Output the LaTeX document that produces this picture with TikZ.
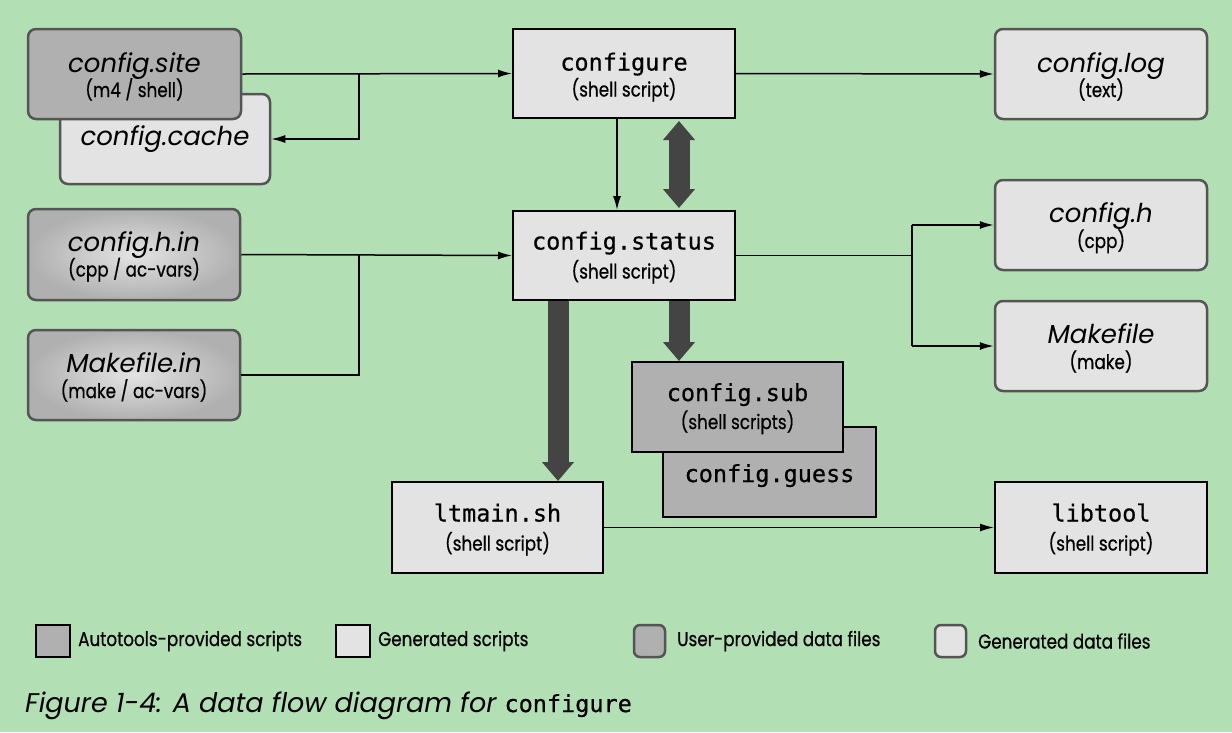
\documentclass[tikz,border=0pt]{standalone}
\usepackage{fontspec}
\setmainfont{Poppins}
\setmonofont{DejaVu Sans Mono}[FakeBold=0.6]
\newfontfamily\subf{Poppins}[FakeStretch=0.84,FakeBold=0.6]
\usetikzlibrary{arrows.meta,calc}
\definecolor{bg}{HTML}{B2E0B4}
\definecolor{darkbox}{HTML}{B0B0B0}
\definecolor{lightbox}{HTML}{E3E3E3}
\definecolor{rim}{HTML}{555555}
\definecolor{bigarrow}{HTML}{444444}
\tikzset{
  sbox/.style={draw=black, line width=2pt, minimum width=212pt, minimum height=90pt, inner sep=0pt},
  dbox/.style={draw=rim, line width=2.5pt, rounded corners=8pt, minimum width=212pt, minimum height=90pt, inner sep=0pt},
  gen/.style={fill=lightbox},
  auto/.style={fill=darkbox},
  grad/.style={inner color=lightbox, outer color=darkbox},
  ttl/.style={anchor=base, font=\fontsize{26}{30}\selectfont\itshape, inner sep=0pt},
  ttlm/.style={anchor=base, font=\fontsize{23.5}{28}\selectfont\ttfamily, inner sep=0pt},
  sub/.style={anchor=base, font=\fontsize{20}{24}\subf, inner sep=0pt},
  ln/.style={line width=1.5pt, draw=black},
  arr/.style={ln, -{Latex[length=14pt,width=8pt]}},
  fat/.style={draw=bigarrow, line width=21pt, -{Triangle[length=19pt,width=31pt]}},
  fat2/.style={draw=bigarrow, line width=21pt, {Triangle[length=19pt,width=31pt]}-{Triangle[length=19pt,width=31pt]}},
  lg/.style={anchor=west, font=\fontsize{20}{24}\subf, inner sep=0pt},
}
\begin{document}
\begin{tikzpicture}[x=1pt,y=-1pt]
\useasboundingbox (0,0) rectangle (1232,732);
\fill[bg] (0,0) rectangle (1232,732);

% boxes
\node[dbox,gen,minimum width=210pt] (cache) at (165,139) {};
\node[ttl] at ($(cache.center)+(0,6)$) {config.cache};
\node[dbox,auto,minimum width=213pt] (site) at (134.5,74) {};
\node[ttl] at ($(site.center)+(0,-2)$) {config.site};
\node[sub] at ($(site.center)+(0,23)$) {(m4 / shell)};

\node[sbox,gen,minimum width=222pt,minimum height=89pt] (cfg) at (624,73.5) {};
\node[ttlm] at ($(cfg.center)+(0,-3)$) {configure};
\node[sub] at ($(cfg.center)+(0,23)$) {(shell script)};

\node[dbox,gen] (log) at (1101,74) {};
\node[ttl] at ($(log.center)+(0,-2)$) {config.log};
\node[sub] at ($(log.center)+(0,23)$) {(text)};

\node[sbox,gen,minimum width=222pt,minimum height=89pt] (status) at (624,255.5) {};
\node[ttlm] at ($(status.center)+(0,-6)$) {config.status};
\node[sub] at ($(status.center)+(0,23)$) {(shell script)};

\node[dbox,grad,minimum height=91pt] (hin) at (134,254.5) {};
\node[ttl] at ($(hin.center)+(0,-3)$) {config.h.in};
\node[sub] at ($(hin.center)+(0,22)$) {(cpp / ac-vars)};

\node[dbox,grad] (min) at (134,375) {};
\node[ttl] at ($(min.center)+(0,-3)$) {Makefile.in};
\node[sub] at ($(min.center)+(0,23)$) {(make / ac-vars)};

\node[dbox,gen] (ch) at (1101,225) {};
\node[ttl] at ($(ch.center)+(0,-3)$) {config.h};
\node[sub] at ($(ch.center)+(0,23)$) {(cpp)};

\node[dbox,gen] (mk) at (1101,346) {};
\node[ttl] at ($(mk.center)+(0,-3)$) {Makefile};
\node[sub] at ($(mk.center)+(0,23)$) {(make)};

\node[sbox,auto,minimum width=213pt] (guess) at (769.5,472) {};
\node[ttlm] at ($(guess.center)+(0,10)$) {config.guess};
\node[sbox,auto,minimum width=211pt] (csub) at (737.5,407) {};
\node[ttlm] at ($(csub.center)+(0,-6)$) {config.sub};
\node[sub] at ($(csub.center)+(0,22)$) {(shell scripts)};

\node[sbox,gen,minimum width=211pt,minimum height=91pt] (lt) at (497.5,527.5) {};
\node[ttlm] at ($(lt.center)+(0,-6)$) {ltmain.sh};
\node[sub] at ($(lt.center)+(0,23)$) {(shell script)};

\node[sbox,gen,minimum height=91pt] (lib) at (1101,527.5) {};
\node[ttlm] at ($(lib.center)+(0,-6)$) {libtool};
\node[sub] at ($(lib.center)+(0,23)$) {(shell script)};

% connectors
\coordinate (j1) at (359,74);
\coordinate (j2) at (359,254.5);
\coordinate (j3) at (912,255.5);
\draw[arr] (site.east) -- (cfg.west);
\draw[arr] (j1) |- (cache.east);
\draw[arr] (cfg.east) -- (log.west);
\draw[arr] ($(cfg.south)+(-7,0)$) -- ($(status.north)+(-7,0)$);
\draw[fat2] ($(cfg.south)+(55,2)$) -- ($(status.north)+(55,-2)$);
\draw[arr] (hin.east) -- (status.west);
\draw[ln] (min.east) -| (j2);
\draw[ln] (status.east) -- (j3);
\draw[ln] (j3 |- ch.west) -- (j3 |- mk.west);
\draw[arr] (j3 |- ch.west) -- (ch.west);
\draw[arr] (j3 |- mk.west) -- (mk.west);
\draw[fat] ($(status.south)+(-66,0)$) -- (lt.north -| 558,0);
\draw[fat] ($(status.south)+(55,0)$) -- (csub.north -| 679,0);
\draw[arr] (lt.east) -- (lib.west);

% legend
\node[sbox,auto,minimum width=34pt,minimum height=32pt] (k1) at (52.5,641) {};
\node[lg] (t1) at (78,641) {Autotools-provided scripts};
\node[sbox,gen,minimum width=34pt,minimum height=32pt] (k2) at (353,641) {};
\node[lg] (t2) at (378,641) {Generated scripts};
\node[dbox,auto,minimum width=31pt,minimum height=32pt,rounded corners=6pt] (k3) at (649.5,641) {};
\node[lg] (t3) at (677,641) {User-provided data files};
\node[dbox,gen,minimum width=31pt,minimum height=32pt,rounded corners=6pt] (k4) at (950.5,641) {};
\node[lg] (t4) at (978,641) {Generated data files};

% caption
\node[anchor=base west, inner sep=0pt, font=\fontsize{27}{32}\selectfont\itshape] (cap) at (25,712) {Figure 1-4: A data flow diagram for {\upshape\fontsize{23.5}{28}\ttfamily configure}};
\end{tikzpicture}
\end{document}
